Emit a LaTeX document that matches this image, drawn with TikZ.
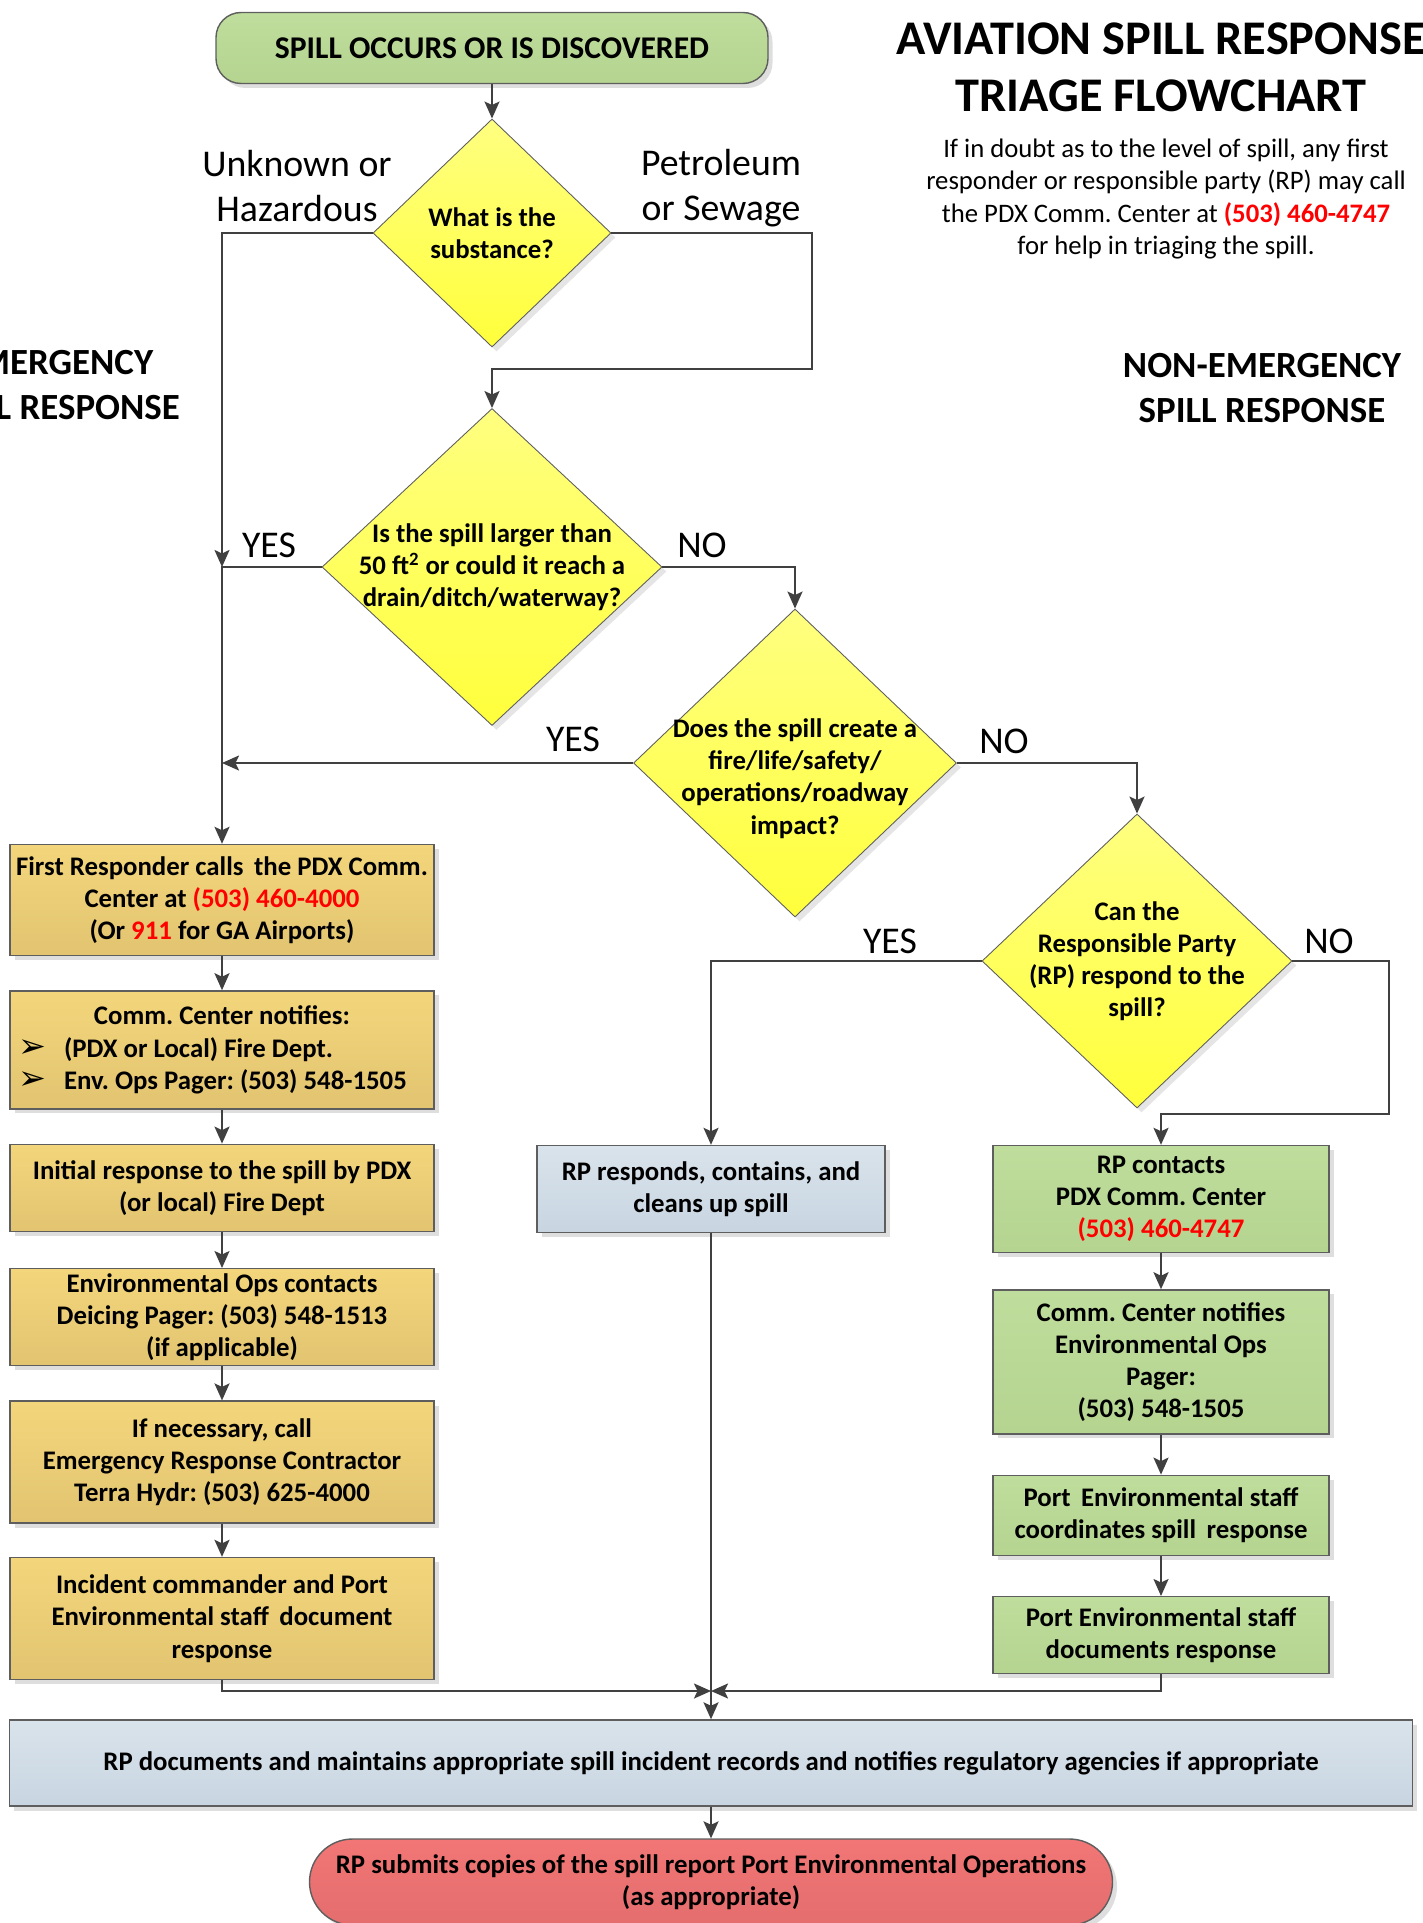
\documentclass[tikz,border=0pt]{standalone}
\usepackage{fontspec}
\setmainfont{Carlito}
\newfontfamily\symfont{DejaVu Sans}
\usetikzlibrary{shapes.geometric,arrows.meta,positioning,shadows}

\definecolor{linegray}{HTML}{404040}
\definecolor{edgegray}{HTML}{5E5E5E}
\definecolor{goldtop}{HTML}{F3D67B}
\definecolor{goldbot}{HTML}{E2C471}
\definecolor{greentop}{HTML}{BFDD9C}
\definecolor{greenbot}{HTML}{B4D490}
\definecolor{bluetop}{HTML}{D9E3EB}
\definecolor{bluebot}{HTML}{C8D5E1}
\definecolor{yellowtop}{HTML}{FFFF80}
\definecolor{yellowbot}{HTML}{FFFF3C}
\definecolor{redtop}{HTML}{F27676}
\definecolor{redbot}{HTML}{E46D6D}
\definecolor{phonered}{HTML}{FF0000}

\newcommand\boxfont{\fontsize{15.25}{18.3}\selectfont\bfseries}
\newcommand\phone[1]{\textcolor{phonered}{#1}}
\newcommand\arrowbullet{\makebox[0.92cm][l]{\fontsize{19}{18}\selectfont\symfont\mdseries ➢}}

\begin{document}
\frenchspacing
\begin{tikzpicture}[
    base box/.style={rectangle, draw=edgegray, line width=0.8pt, align=center,
      inner sep=0pt, font=\boxfont,
      drop shadow={shadow xshift=0.09cm, shadow yshift=-0.09cm, fill=black!13, opacity=1}},
    gold box/.style={base box, top color=goldtop, bottom color=goldbot, minimum width=8.48cm},
    green box/.style={base box, top color=greentop, bottom color=greenbot, minimum width=6.72cm},
    blue box/.style={base box, top color=bluetop, bottom color=bluebot},
    decision/.style={diamond, draw=edgegray, line width=0.5pt, align=center, inner sep=-0.4cm,
      font=\boxfont, top color=yellowtop, bottom color=yellowbot,
      drop shadow={shadow xshift=0.09cm, shadow yshift=-0.09cm, fill=black!10, opacity=1}},
    answer/.style={font=\fontsize{21.5}{25.6}\selectfont},
    flow line/.style={draw=linegray, line width=1.2pt},
    flow arrow/.style={flow line, -{Stealth[length=0.34cm, width=0.3cm, inset=0.07cm]}}]

    \useasboundingbox (0,0) rectangle (28.44,-38.46);
    \clip (0,0) rectangle (28.44,-38.46);

    % headings
    \node [font=\fontsize{27.5}{32.4}\selectfont\bfseries, align=center] (title) at (23.22,-1.35)
        {AVIATION SPILL RESPONSE\\TRIAGE FLOWCHART};
    \node [font=\fontsize{15.2}{18.3}\selectfont, align=center] (doubt) at (23.32,-3.98)
        {If in doubt as to the level of spill, any first\\
         responder or responsible party (RP) may call\\
         the PDX Comm. Center at \textbf{\phone{(503) 460-4747}}\\
         for help in triaging the spill.};
    \node [font=\fontsize{21}{25.6}\selectfont\bfseries, align=center] (nonemerg) at (25.24,-7.77)
        {NON-EMERGENCY\\SPILL RESPONSE};
    \node [font=\fontsize{21}{25.6}\selectfont\bfseries, align=center] (emerg) at (1.13,-7.7)
        {EMERGENCY\\SPILL RESPONSE};

    % start and decisions
    \node [base box, rounded corners=0.5cm, top color=greentop, bottom color=greenbot,
        minimum width=11.04cm, minimum height=1.42cm, font=\fontsize{18}{20}\selectfont\bfseries]
        (start) at (9.84,-0.96) {SPILL OCCURS OR IS DISCOVERED};
    \node [decision, minimum width=4.76cm, minimum height=4.56cm, aspect=1.04] (subst) at (9.84,-4.66)
        {What is the\\substance?};
    \node [decision, minimum width=6.8cm, minimum height=6.34cm, aspect=1.07] (size) at (9.84,-11.34)
        {Is the spill larger than\\50 ft\textsuperscript{2} or could it reach a\\drain/ditch/waterway?};
    \node [decision, minimum width=6.46cm, minimum height=6.16cm, aspect=1.05, inner sep=-0.7cm]
        (impact) at (15.9,-15.26)
        {\rule{0pt}{1.0cm}Does the spill create a\\fire/life/safety/\\operations/roadway\\impact?};
    \node [decision, minimum width=6.2cm, minimum height=5.88cm, aspect=1.05] (canrp) at (22.74,-19.22)
        {Can the\\Responsible Party\\(RP) respond to the\\spill?};

    % answers
    \node [answer, align=center] (unknown) at (5.94,-3.72) {Unknown or\\Hazardous};
    \node [answer, align=center] (petrol) at (14.42,-3.76) {Petroleum\\or Sewage};
    \node [answer] (yessize) at (5.38,-10.9) {YES};
    \node [answer] (nosize) at (14.04,-10.9) {NO};
    \node [answer] (yesimpact) at (11.46,-14.78) {YES};
    \node [answer] (noimpact) at (20.08,-14.82) {NO};
    \node [answer] (yesrp) at (17.8,-18.82) {YES};
    \node [answer] (norp) at (26.58,-18.82) {NO};

    % emergency column
    \node [gold box, minimum height=2.22cm] (first) at (4.44,-18.0)
        {First Responder calls\, the PDX Comm.\\Center at \phone{(503) 460-4000}\\(Or \phone{911} for GA Airports)};
    \node [gold box, minimum height=2.36cm, below=0.68cm of first] (notify)
        {\makebox[8.16cm][c]{Comm. Center notifies:}\\
         \makebox[8.16cm][l]{\arrowbullet(PDX or Local) Fire Dept.}\\
         \makebox[8.16cm][l]{\arrowbullet Env. Ops Pager: (503) 548-1505}};
    \node [gold box, minimum height=1.74cm, below=0.68cm of notify] (initial)
        {Initial response to the spill by PDX\\(or local) Fire Dept};
    \node [gold box, minimum height=1.94cm, below=0.72cm of initial] (envops)
        {Environmental Ops contacts\\Deicing Pager: (503) 548-1513\\(if applicable)};
    \node [gold box, minimum height=2.44cm, below=0.68cm of envops] (contractor)
        {If necessary, call\\Emergency Response Contractor\\Terra Hydr: (503) 625-4000};
    \node [gold box, minimum height=2.44cm, below=0.66cm of contractor] (incident)
        {Incident commander and Port\\Environmental staff\, document\\response};

    % RP column
    \node [blue box, minimum width=6.96cm, minimum height=1.74cm] (rpclean) at (14.22,-23.78)
        {RP responds, contains, and\\cleans up spill};

    % non-emergency column
    \node [green box, minimum height=2.14cm] (rpcall) at (23.22,-23.98)
        {RP contacts\\PDX Comm. Center\\\phone{(503) 460-4747}};
    \node [green box, minimum height=2.88cm, below=0.72cm of rpcall] (notifyenv)
        {Comm. Center notifies\\Environmental Ops\\Pager:\\(503) 548-1505};
    \node [green box, minimum height=1.6cm, below=0.8cm of notifyenv] (coord)
        {Port\, Environmental staff\\coordinates spill\, response};
    \node [green box, minimum height=1.54cm, below=0.8cm of coord] (documents)
        {Port Environmental staff\\documents response};

    % closing steps
    \node [blue box, minimum width=28.06cm, minimum height=1.72cm] (records) at (14.22,-35.26)
        {RP documents and maintains appropriate spill incident records and notifies regulatory agencies if appropriate};
    \node [base box, rounded corners=0.86cm, top color=redtop, bottom color=redbot,
        minimum width=16.06cm, minimum height=1.72cm] (submit) at (14.22,-37.64)
        {RP submits copies of the spill report Port Environmental Operations\\(as appropriate)};

    \coordinate (jyes) at (first.north |- size.west);
    \coordinate (jimpact) at (first.north |- impact.west);
    \coordinate (petbend) at (16.24,-7.38);
    \coordinate (nobend) at (27.78,-22.28);
    \coordinate (merge) at (rpclean.south |- 0,-33.82);

    % connectors
    \draw [flow arrow] (start) -- (subst);
    \draw [flow arrow] (subst.west) -| (jyes);
    \draw [flow arrow] (subst.east) -| (petbend) -| (size.north);
    \draw [flow arrow] (size.west) -| (first.north);
    \draw [flow arrow] (size.east) -| (impact.north);
    \draw [flow arrow] (impact.west) -- (jimpact);
    \draw [flow arrow] (impact.east) -| (canrp.north);
    \draw [flow arrow] (canrp.west) -| (rpclean.north);
    \draw [flow arrow] (canrp.east) -| (nobend) -| (rpcall.north);
    \draw [flow arrow] (first) -- (notify);
    \draw [flow arrow] (notify) -- (initial);
    \draw [flow arrow] (initial) -- (envops);
    \draw [flow arrow] (envops) -- (contractor);
    \draw [flow arrow] (contractor) -- (incident);
    \draw [flow arrow] (rpcall) -- (notifyenv);
    \draw [flow arrow] (notifyenv) -- (coord);
    \draw [flow arrow] (coord) -- (documents);
    \draw [flow arrow] (incident.south) |- (merge);
    \draw [flow arrow] (documents.south) |- (merge);
    \draw [flow arrow] (rpclean.south) -- (records.north);
    \draw [flow arrow] (records) -- (submit);

\end{tikzpicture}
\end{document}
